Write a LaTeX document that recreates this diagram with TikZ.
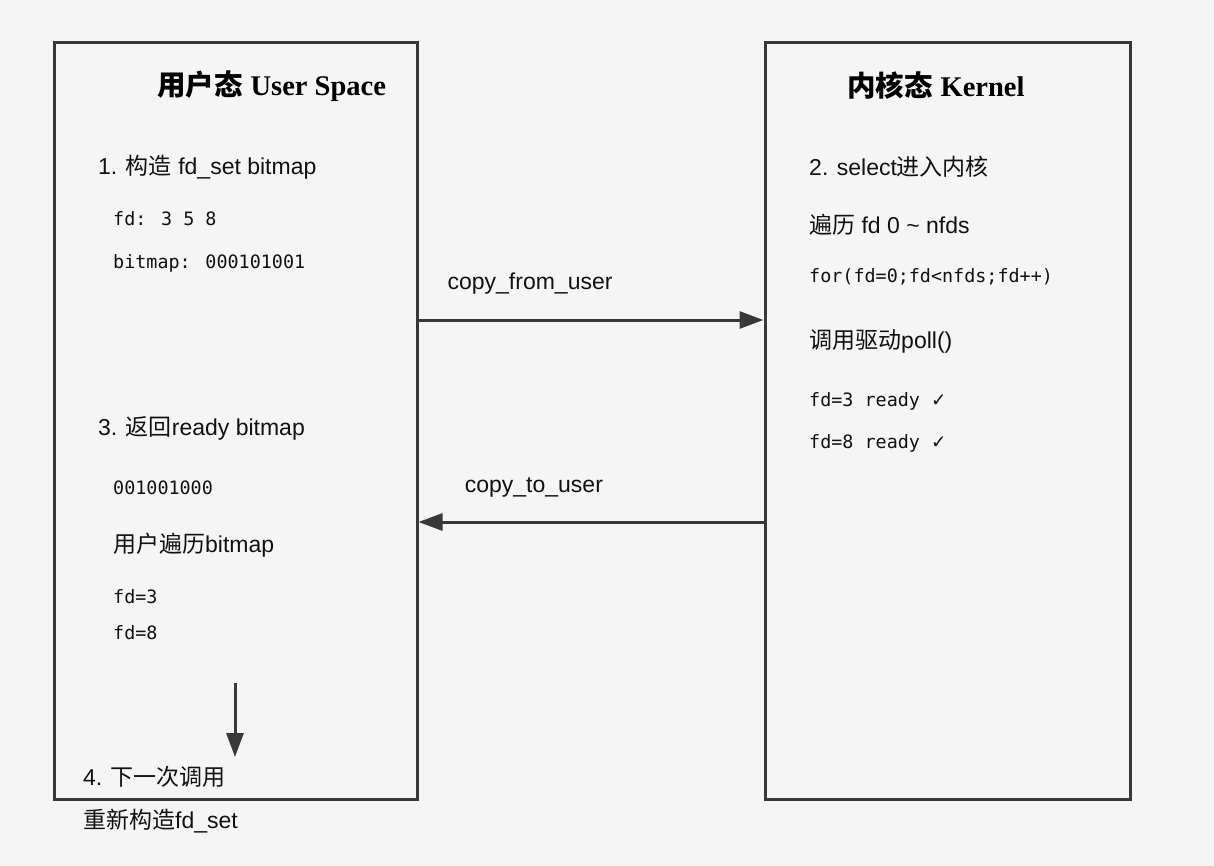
\documentclass[tikz,border=0pt]{standalone}
\usepackage{fontspec}
\setmainfont{Liberation Sans}
\newfontfamily\cjk{Noto Sans CJK SC}
\newfontfamily\titleserif{Liberation Serif}
\newfontfamily\codefont{DejaVu Sans Mono}
\newfontfamily\symfont{DejaVu Sans}
\usetikzlibrary{arrows.meta}
\definecolor{bg}{HTML}{F5F5F5}
\definecolor{edge}{HTML}{383838}
\definecolor{ink}{HTML}{111111}
\begin{document}
\begin{tikzpicture}[x=1pt,y=-1pt,
  panel/.style={draw=edge, line width=3pt, fill=bg, inner sep=0pt},
  txt/.style={anchor=west, inner sep=0pt, text=ink, font=\fontsize{23}{27}\selectfont},
  code/.style={anchor=west, inner sep=0pt, text=ink, font=\codefont\fontsize{18.4}{22}\selectfont},
  heading/.style={anchor=west, inner sep=0pt, text=black, font=\fontsize{28.5}{33}\selectfont\bfseries},
  arr/.style={draw=edge, line width=3pt, -{Triangle[length=24pt,width=17pt]}}]
\fill[bg] (0,0) rectangle (1214,866);
\useasboundingbox (0,0) rectangle (1214,866);
% panels
\node[panel, minimum width=363pt, minimum height=756pt] (user) at (235.5,421) {};
\node[panel, minimum width=365pt, minimum height=756pt] (kernel) at (947.5,421) {};
% user space texts
\node[heading] (uh) at (157,86) {{\cjk 用户态} {\titleserif User Space}};
\node[txt] (u1) at (98,167) {1. {\cjk 构造} fd\_set bitmap};
\node[code] (u1a) at (113,219) {fd: 3 5 8};
\node[code] (u1b) at (113,263) {bitmap: 000101001};
\node[txt] (u3) at (98,428) {3. {\cjk 返回}ready bitmap};
\node[code] (u3a) at (113,488) {001001000};
\node[txt] (u3b) at (113,545) {{\cjk 用户遍历}bitmap};
\node[code] (u3c) at (113,597) {fd=3};
\node[code] (u3d) at (113,633) {fd=8};
\node[txt] (u4) at (83,777) {4. {\cjk 下一次调用}};
\node[txt] (u4b) at (83,821) {{\cjk 重新构造}fd\_set};
% kernel texts
\node[heading] (kh) at (847,86) {{\cjk 内核态} {\titleserif Kernel}};
\node[txt] (k1) at (809,167) {2. select{\cjk 进入内核}};
\node[txt] (k2) at (809,225) {{\cjk 遍历} fd 0 \char`~{} nfds};
\node[code] (k3) at (809,277) {for(fd=0;fd<nfds;fd++)};
\node[txt] (k4) at (809,341) {{\cjk 调用驱动}poll()};
\node[code] (k5) at (809,401) {fd=3 ready {\symfont ✓}};
\node[code] (k6) at (809,443) {fd=8 ready {\symfont ✓}};
% connectors
\draw[arr] ([yshift=101pt]user.east) -- node[txt, pos=0.08, yshift=36pt] (cfu) {copy\_from\_user} ([yshift=101pt]kernel.west);
\draw[arr] ([yshift=-101pt]kernel.west) -- node[txt, pos=0.87, yshift=35pt] (ctu) {copy\_to\_user} ([yshift=-101pt]user.east);
\coordinate (dstart) at (235,683);
\coordinate (dend) at (235,757);
\draw[arr] (dstart) -- (dend);
\end{tikzpicture}
\end{document}
